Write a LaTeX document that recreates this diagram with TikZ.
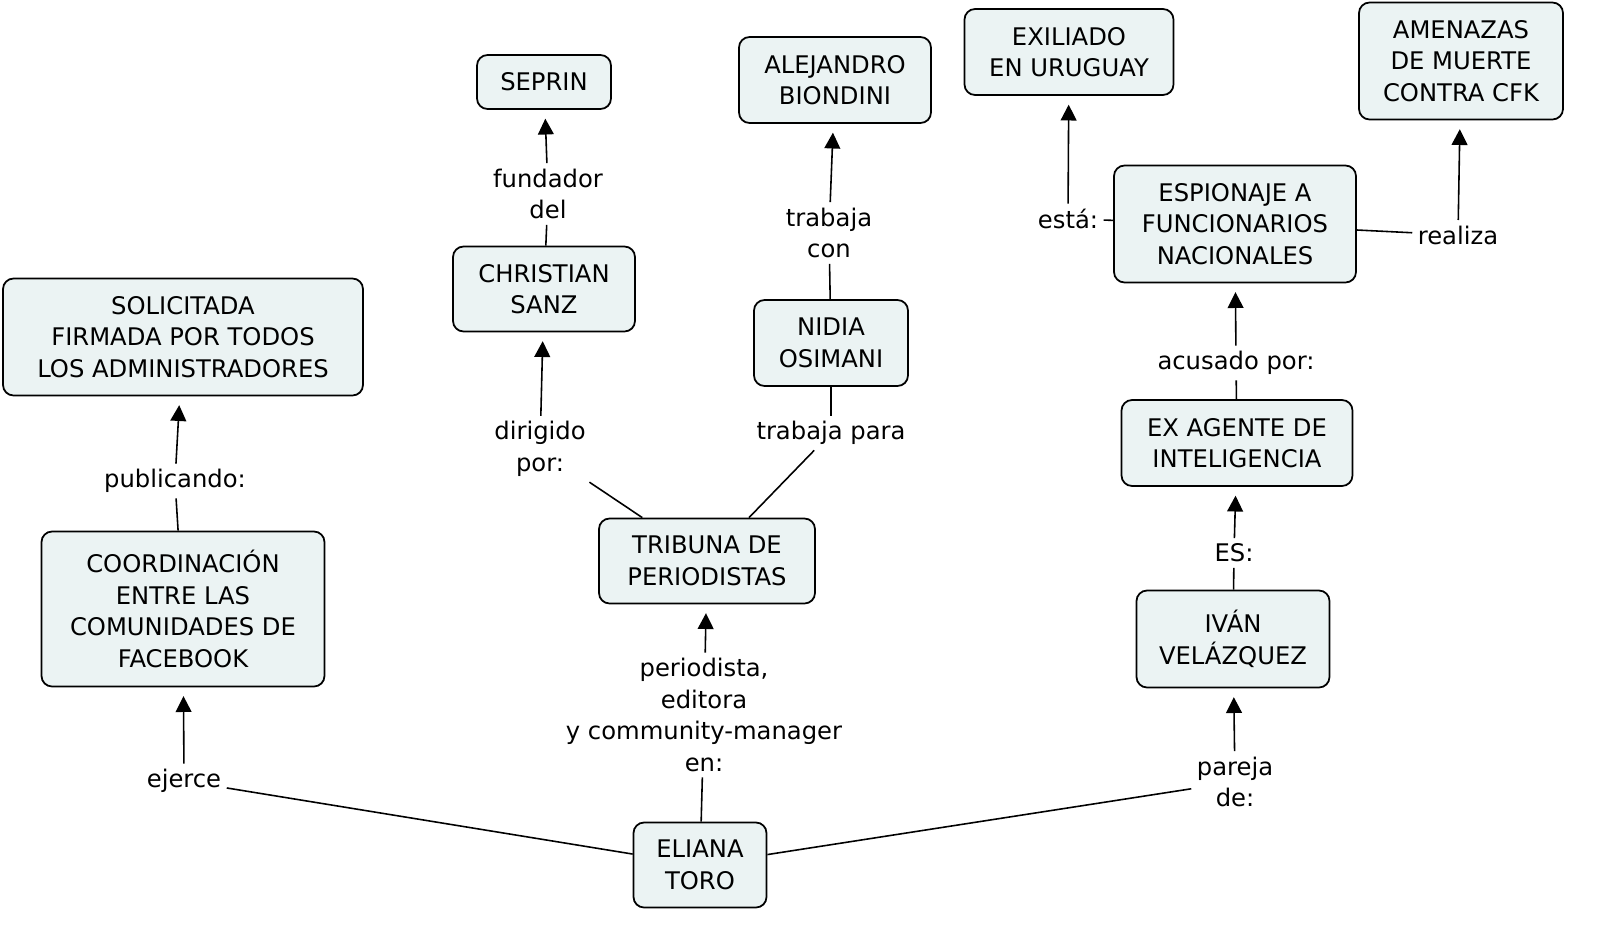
\documentclass[tikz,border=0pt]{standalone}
\usepackage{fontspec}
\setmainfont{DejaVu Sans}
\usepackage{xcolor}
\usetikzlibrary{arrows.meta, positioning}
\definecolor{cmapfill}{HTML}{EBF3F3}

\begin{document}
\begin{tikzpicture}[
    concept/.style={rectangle,draw=black,line width=1pt,fill=cmapfill,rounded corners=6pt,
        align=center,font=\fontsize{13.8}{18}\selectfont,inner sep=2pt},
    link/.style={align=center,font=\fontsize{13.8}{18}\selectfont,inner sep=3pt},
    line/.style={draw=black,line width=0.9pt},
    arr/.style={line,-{Triangle[length=9pt,width=9pt]},shorten >=5pt}
]
    \useasboundingbox (0,0) rectangle (32,-18.64);

    % Conceptos
    \node[concept,minimum width=2.68cm,minimum height=1.08cm] (seprin) at (10.88,-1.64) {SEPRIN};
    \node[concept,minimum width=3.84cm,minimum height=1.72cm] (biondini) at (16.7,-1.6) {ALEJANDRO\\BIONDINI};
    \node[concept,minimum width=4.18cm,minimum height=1.72cm] (exiliado) at (21.38,-1.04) {EXILIADO\\EN URUGUAY};
    \node[concept,minimum width=4.08cm,minimum height=2.34cm] (amenazas) at (29.22,-1.22) {AMENAZAS\\DE MUERTE\\CONTRA CFK};
    \node[concept,minimum width=4.84cm,minimum height=2.34cm] (espionaje) at (24.7,-4.48) {ESPIONAJE A\\FUNCIONARIOS\\NACIONALES};
    \node[concept,minimum width=3.64cm,minimum height=1.7cm] (sanz) at (10.88,-5.78) {CHRISTIAN\\SANZ};
    \node[concept,minimum width=3.08cm,minimum height=1.72cm] (nidia) at (16.62,-6.86) {NIDIA\\OSIMANI};
    \node[concept,minimum width=7.2cm,minimum height=2.34cm] (solicitada) at (3.66,-6.74) {SOLICITADA\\FIRMADA POR TODOS\\LOS ADMINISTRADORES};
    \node[concept,minimum width=4.62cm,minimum height=1.72cm] (exagente) at (24.74,-8.86) {EX AGENTE DE\\INTELIGENCIA};
    \node[concept,minimum width=4.32cm,minimum height=1.7cm] (tribuna) at (14.14,-11.22) {TRIBUNA DE\\PERIODISTAS};
    \node[concept,minimum width=5.66cm,minimum height=3.1cm] (coord) at (3.66,-12.18) {COORDINACIÓN\\ENTRE LAS\\COMUNIDADES DE\\FACEBOOK};
    \node[concept,minimum width=3.86cm,minimum height=1.94cm] (ivan) at (24.66,-12.78) {IVÁN\\VELÁZQUEZ};
    \node[concept,minimum width=2.66cm,minimum height=1.7cm] (eliana) at (14,-17.3) {ELIANA\\TORO};

    % Frases de enlace
    \node[link] (fundador) at (10.96,-3.88) {fundador\\del};
    \node[link] (trabajacon) at (16.58,-4.66) {trabaja\\con};
    \node[link] (esta) at (21.36,-4.38) {está:};
    \node[link] (realiza) at (29.16,-4.7) {realiza};
    \node[link] (acusado) at (24.72,-7.26) {acusado por:};
    \node[link] (dirigido) at (10.8,-8.98) {dirigido\\por:};
    \node[link] (trabajapara) at (16.62,-8.66) {trabaja para};
    \node[link] (publicando) at (3.5,-9.62) {publicando:};
    \node[link] (es) at (24.68,-11.06) {ES:};
    \node[link] (periodista) at (14.08,-14.3) {periodista,\\editora\\y community-manager\\en:};
    \node[link] (ejerce) at (3.68,-15.62) {ejerce};
    \node[link] (pareja) at (24.7,-15.64) {pareja\\de:};

    % Conexiones
    \draw[line] (eliana) -- (ejerce);
    \draw[arr] (ejerce) -- (coord);
    \draw[line] (coord) -- (publicando);
    \draw[arr] (publicando) -- (solicitada);
    \draw[line] (eliana) -- (periodista);
    \draw[arr] (periodista) -- (tribuna);
    \draw[line] (tribuna) -- (dirigido);
    \draw[arr] (dirigido) -- (sanz);
    \draw[line] (sanz) -- (fundador);
    \draw[arr] (fundador) -- (seprin);
    \draw[line] (tribuna) -- (trabajapara);
    \draw[line] (trabajapara) -- (nidia);
    \draw[line] (nidia) -- (trabajacon);
    \draw[arr] (trabajacon) -- (biondini);
    \draw[line] (eliana) -- (pareja);
    \draw[arr] (pareja) -- (ivan);
    \draw[line] (ivan) -- (es);
    \draw[arr] (es) -- (exagente);
    \draw[line] (exagente) -- (acusado);
    \draw[arr] (acusado) -- (espionaje);
    \draw[line] (espionaje) -- (esta);
    \draw[arr] (esta) -- (exiliado);
    \draw[line] (espionaje) -- (realiza);
    \draw[arr] (realiza) -- (amenazas);
\end{tikzpicture}
\end{document}
